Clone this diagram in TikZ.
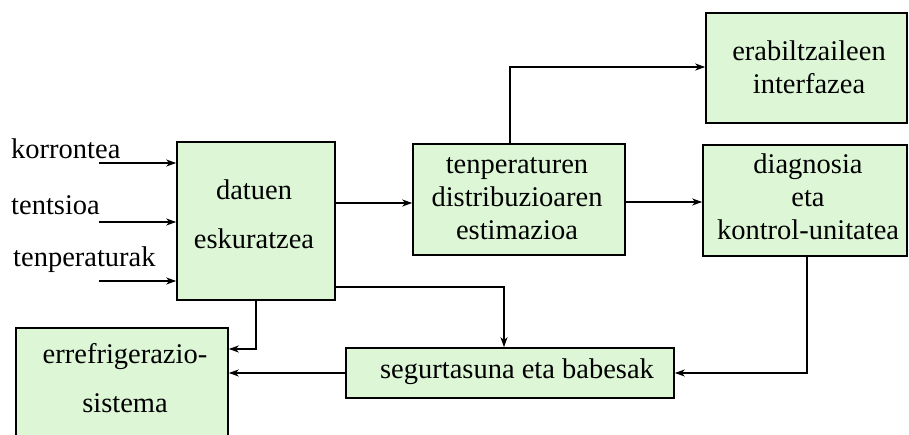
\documentclass[tikz,border=0pt]{standalone}
\usepackage{fontspec}
\setmainfont{Liberation Serif}
\usetikzlibrary{arrows.meta}
\definecolor{boxfill}{HTML}{DCF6D6}
\begin{document}
\begin{tikzpicture}[x=1pt,y=-1pt,
  box/.style={draw=black, line width=1.6pt, fill=boxfill, inner sep=0pt},
  txt/.style={font=\fontsize{28.5}{33}\selectfont, inner sep=0pt, align=center, anchor=base},
  wtxt/.style={font=\fontsize{28.5}{49}\selectfont, inner sep=0pt, align=center, anchor=base},
  arr/.style={line width=1.4pt, -{Stealth[length=10pt,width=7pt,inset=3pt]}},
  ln/.style={line width=1.4pt}]
\useasboundingbox (0,0) rectangle (909,435);

% boxes
\node[box, minimum width=158pt, minimum height=158pt] (dat) at (256,221) {};
\node[box, minimum width=212pt, minimum height=111pt] (tenp) at (519,199.5) {};
\node[box, minimum width=201pt, minimum height=110pt] (erab) at (806.5,68) {};
\node[box, minimum width=204pt, minimum height=111pt] (diag) at (805,200.5) {};
\node[box, minimum width=328pt, minimum height=50pt] (segur) at (510,373) {};
\node[box, minimum width=212pt, minimum height=112pt] (erref) at (122,384) {};

% texts (base anchor = baseline of last line)
\node[wtxt] (datT) at (254,249) {datuen\\eskuratzea};
\node[txt] (tenpT) at (517,240) {tenperaturen\\distribuzioaren\\estimazioa};
\node[txt] (erabT) at (809,94) {erabiltzaileen\\interfazea};
\node[txt] (diagT) at (808,240) {diagnosia\\eta\\kontrol-unitatea};
\node[txt] (segurT) at (517,378) {segurtasuna eta babesak};
\node[wtxt] (errefT) at (125,412) {errefrigerazio-\\sistema};

\node[txt, anchor=base west] (lk) at (11,159) {korrontea};
\node[txt, anchor=base west] (lt) at (11,215) {tentsioa};
\node[txt, anchor=base west] (lp) at (13,267) {tenperaturak};

% helper coordinates
\coordinate (k1) at (99,163);
\coordinate (k2) at (99,222);
\coordinate (k3) at (99,281);
\coordinate (y203) at (0,203);
\coordinate (y202) at (0,202);
\coordinate (c67) at (510,67);
\coordinate (c287) at (504,287);
\coordinate (c373) at (807,373);
\coordinate (c349) at (256,349);

% connectors
\draw[arr] (k1) -- (k1 -| dat.west);
\draw[arr] (k2) -- (k2 -| dat.west);
\draw[arr] (k3) -- (k3 -| dat.west);
\draw[arr] (dat.east |- y203) -- (tenp.west |- y203);
\draw[arr] (tenp.east |- y202) -- (diag.west |- y202);
\draw[arr] (c67 |- tenp.north) |- (erab.west |- c67);
\draw[arr] (dat.east |- c287) -| (segur.north -| c287);
\draw[arr] (c373 |- diag.south) |- (segur.east |- c373);
\draw[arr] (dat.south) |- (erref.east |- c349);
\draw[arr] (segur.west) -- (segur.west -| erref.east);
\end{tikzpicture}
\end{document}
